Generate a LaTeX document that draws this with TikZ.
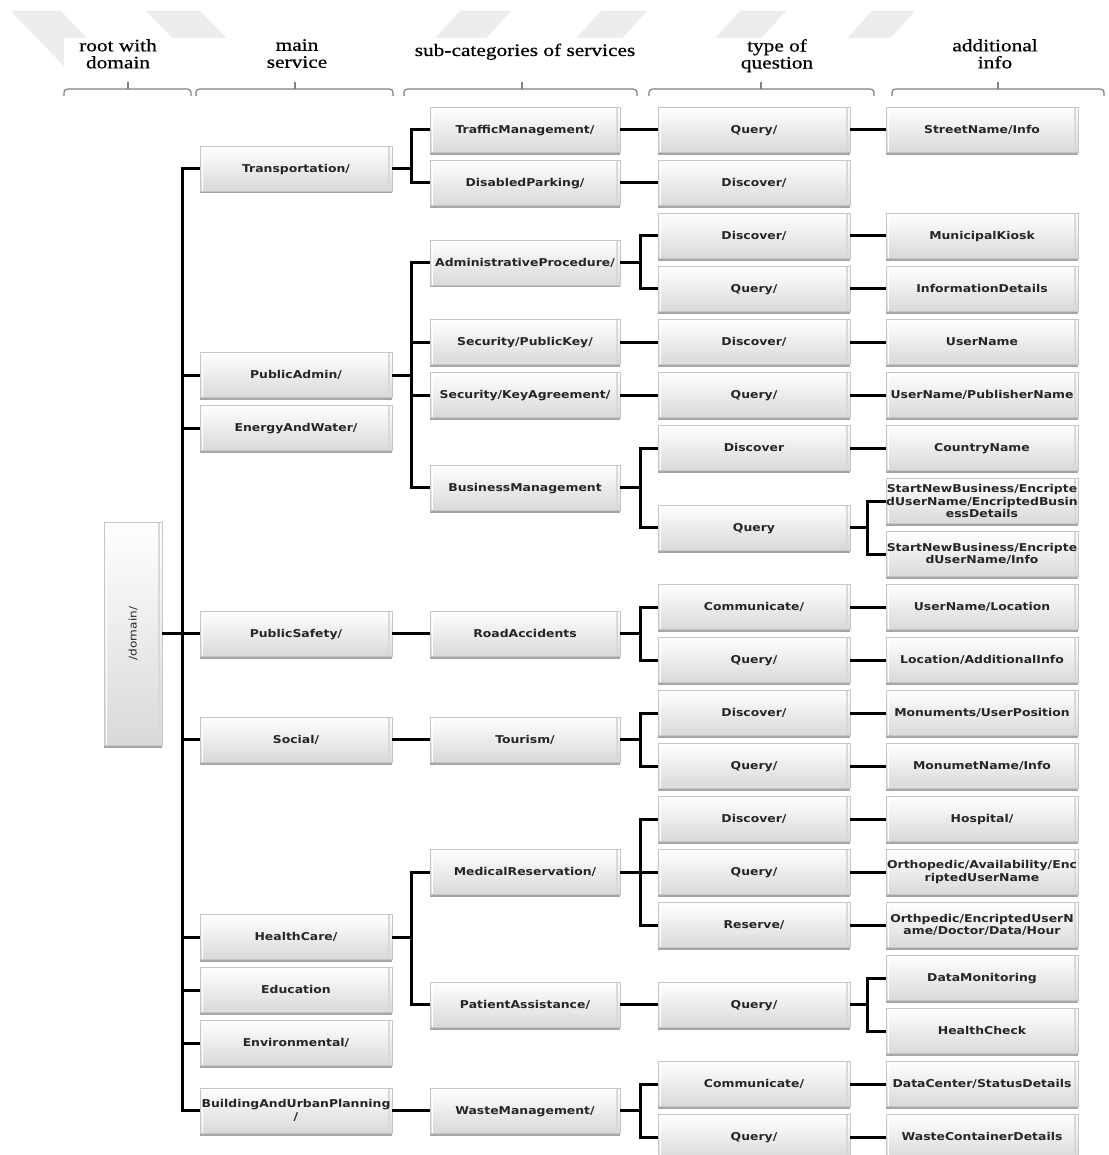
\documentclass[tikz,border=0pt]{standalone}
\usepackage{fontspec}
\usepackage{graphicx}
\usetikzlibrary{shadows}
\newfontfamily\boxfont{DejaVu Sans}[FakeStretch=1.15]
\newfontfamily\headfont{Liberation Serif}[FakeStretch=1.22, FakeBold=0.6]

\begin{document}
\begin{tikzpicture}[x=1pt,y=-1pt,
  svcbox/.style={draw=gray!45, line width=0.6pt, top color=white, bottom color=gray!30,
    minimum width=192pt, minimum height=45pt, inner sep=0pt, align=center,
    text=black!85, font=\boxfont\bfseries\fontsize{10.8}{12.5}\selectfont,
    text height=9pt, text depth=1.5pt,
    drop shadow={shadow xshift=0pt, shadow yshift=-2.5pt, fill=gray!70, opacity=1},
    path picture={
      \draw[white, line width=1.2pt]
        ([xshift=2.5pt]path picture bounding box.north west) --
        ([xshift=2.5pt]path picture bounding box.south west);
      \draw[gray!30, line width=1.2pt]
        ([xshift=-3pt]path picture bounding box.north east) --
        ([xshift=-3pt]path picture bounding box.south east);}},
  multi/.style={text height=, text depth=},
  subbox/.style={svcbox, minimum width=190pt},
  conn/.style={line width=3pt, black},
  brk/.style={gray, line width=1.2pt},
  head/.style={font=\headfont\fontsize{17.5}{17}\selectfont, text=black, align=center, inner sep=0pt},
  wm/.style={fill=gray!14}
]
\useasboundingbox (0,0) rectangle (1108,1155);
\fill[white] (0,0) rectangle (1108,1155);

% faint background marks along the top edge
\fill[wm] (11,11) -- (61,11) -- (128,81) -- (78,81) -- cycle;
\fill[wm] (146,11) -- (200,11) -- (233,45) -- (179,45) -- cycle;
\fill[wm] (460,11) -- (511,11) -- (480,45) -- (429,45) -- cycle;
\fill[wm] (601,11) -- (647,11) -- (616,45) -- (570,45) -- cycle;
\fill[wm] (740,11) -- (786,11) -- (755,45) -- (709,45) -- cycle;
\fill[wm] (872,11) -- (915,11) -- (884,45) -- (841,45) -- cycle;
\fill[white] (64,38) rectangle (1108,1155);

% column headings
\node[head, anchor=north] (hroot) at (118,39) {root with\\domain};
\node[head, anchor=north] (hmain) at (297,39) {main\\service};
\node[head, anchor=base]  (hsub)  at (525,56) {sub-categories of services};
\node[head, anchor=north] (htype) at (777,39) {type of\\question};
\node[head, anchor=north] (hinfo) at (995,39) {additional\\info};

% heading braces
\foreach \a/\m/\b in {64/128/191, 196/295/393, 404/522/637, 649/761/874, 892/998/1104} {
  \draw[brk] (\a,96) .. controls (\a,90) .. (\a+4,89) -- (\b-4,89) .. controls (\b,90) .. (\b,96);
  \draw[brk] (\m,89) -- (\m,82);
}

% bus lines
\coordinate (b0) at (182,0);
\coordinate (b1) at (411,0);
\coordinate (b2) at (640,0);
\coordinate (b3) at (867,0);

% root
\node[svcbox, multi, minimum width=58pt, minimum height=223pt,
      font=\boxfont\fontsize{10.5}{12}\selectfont] (root) at (133,633.5) {\rotatebox{90}{/domain/}};

% main services
\node[svcbox] (trans)   at (296,168.5) {Transportation/};
\node[svcbox] (padmin)  at (296,375)   {PublicAdmin/};
\node[svcbox] (energy)  at (296,428)   {EnergyAndWater/};
\node[svcbox] (psafety) at (296,633.5) {PublicSafety/};
\node[svcbox] (social)  at (296,739.5) {Social/};
\node[svcbox] (health)  at (296,937)   {HealthCare/};
\node[svcbox] (edu)     at (296,990)   {Education};
\node[svcbox] (env)     at (296,1043)  {Environmental/};
\node[svcbox, multi] (build) at (296,1110.5) {BuildingAndUrbanPlanning\\/};

% sub-categories
\node[subbox] (traffic)  at (525,130)    {TrafficManagement/};
\node[subbox] (disabled) at (525,183)    {DisabledParking/};
\node[subbox] (adminp)   at (525,262.5)  {AdministrativeProcedure/};
\node[subbox] (seckey)   at (525,342)    {Security/PublicKey/};
\node[subbox] (secagr)   at (525,395)    {Security/KeyAgreement/};
\node[subbox] (busm)     at (525,487.5)  {BusinessManagement};
\node[subbox] (road)     at (525,633.5)  {RoadAccidents};
\node[subbox] (tour)     at (525,739.5)  {Tourism/};
\node[subbox] (medres)   at (525,872)    {MedicalReservation/};
\node[subbox] (patient)  at (525,1004.5) {PatientAssistance/};
\node[subbox] (waste)    at (525,1110.5) {WasteManagement/};

% question types
\node[svcbox] (q1)  at (754,130)    {Query/};
\node[svcbox] (d1)  at (754,183)    {Discover/};
\node[svcbox] (d2)  at (754,236)    {Discover/};
\node[svcbox] (q2)  at (754,289)    {Query/};
\node[svcbox] (d3)  at (754,342)    {Discover/};
\node[svcbox] (q3)  at (754,395)    {Query/};
\node[svcbox] (d4)  at (754,448)    {Discover};
\node[svcbox] (q4)  at (754,527.5)  {Query};
\node[svcbox] (c1)  at (754,607)    {Communicate/};
\node[svcbox] (q5)  at (754,660)    {Query/};
\node[svcbox] (d5)  at (754,713)    {Discover/};
\node[svcbox] (q6)  at (754,766)    {Query/};
\node[svcbox] (d6)  at (754,819)    {Discover/};
\node[svcbox] (q7)  at (754,872)    {Query/};
\node[svcbox] (res) at (754,925)    {Reserve/};
\node[svcbox] (q8)  at (754,1004.5) {Query/};
\node[svcbox] (c2)  at (754,1084)   {Communicate/};
\node[svcbox] (q9)  at (754,1137)   {Query/};

% additional info
\node[svcbox] (a1)  at (982,130)  {StreetName/Info};
\node[svcbox] (a2)  at (982,236)  {MunicipalKiosk};
\node[svcbox] (a3)  at (982,289)  {InformationDetails};
\node[svcbox] (a4)  at (982,342)  {UserName};
\node[svcbox] (a5)  at (982,395)  {UserName/PublisherName};
\node[svcbox] (a6)  at (982,448)  {CountryName};
\node[svcbox, multi] (a7)  at (982,501)  {StartNewBusiness/Encripte\\dUserName/EncriptedBusin\\essDetails};
\node[svcbox, multi] (a8)  at (982,554)  {StartNewBusiness/Encripte\\dUserName/Info};
\node[svcbox] (a9)  at (982,607)  {UserName/Location};
\node[svcbox] (a10) at (982,660)  {Location/AdditionalInfo};
\node[svcbox] (a11) at (982,713)  {Monuments/UserPosition};
\node[svcbox] (a12) at (982,766)  {MonumetName/Info};
\node[svcbox] (a13) at (982,819)  {Hospital/};
\node[svcbox, multi] (a14) at (982,872)  {Orthopedic/Availability/Enc\\riptedUserName};
\node[svcbox, multi] (a15) at (982,925)  {Orthpedic/EncriptedUserN\\ame/Doctor/Data/Hour};
\node[svcbox] (a16) at (982,978)  {DataMonitoring};
\node[svcbox] (a17) at (982,1031) {HealthCheck};
\node[svcbox] (a18) at (982,1084) {DataCenter/StatusDetails};
\node[svcbox] (a19) at (982,1137) {WasteContainerDetails};

% root to main services
\draw[conn] (root.east) -- (root.east -| b0);
\draw[conn] (trans.west) -| (b0 |- build) -- (build.west);
\foreach \n in {padmin,energy,psafety,social,health,edu,env}
  \draw[conn] (b0 |- \n) -- (\n.west);

% main services to sub-categories
\draw[conn] (trans.east) -- (trans.east -| b1);
\draw[conn] (traffic.west) -| (b1 |- disabled) -- (disabled.west);
\draw[conn] (padmin.east) -- (padmin.east -| b1);
\draw[conn] (adminp.west) -| (b1 |- busm) -- (busm.west);
\draw[conn] (b1 |- seckey) -- (seckey.west);
\draw[conn] (b1 |- secagr) -- (secagr.west);
\draw[conn] (psafety.east) -- (road.west);
\draw[conn] (social.east) -- (tour.west);
\draw[conn] (health.east) -- (health.east -| b1);
\draw[conn] (medres.west) -| (b1 |- patient) -- (patient.west);
\draw[conn] (build.east) -- (waste.west);

% sub-categories to question types
\draw[conn] (traffic.east) -- (q1.west);
\draw[conn] (disabled.east) -- (d1.west);
\draw[conn] (adminp.east) -- (adminp.east -| b2);
\draw[conn] (d2.west) -| (b2 |- q2) -- (q2.west);
\draw[conn] (seckey.east) -- (d3.west);
\draw[conn] (secagr.east) -- (q3.west);
\draw[conn] (busm.east) -- (busm.east -| b2);
\draw[conn] (d4.west) -| (b2 |- q4) -- (q4.west);
\draw[conn] (road.east) -- (road.east -| b2);
\draw[conn] (c1.west) -| (b2 |- q5) -- (q5.west);
\draw[conn] (tour.east) -- (tour.east -| b2);
\draw[conn] (d5.west) -| (b2 |- q6) -- (q6.west);
\draw[conn] (medres.east) -- (medres.east -| b2);
\draw[conn] (d6.west) -| (b2 |- res) -- (res.west);
\draw[conn] (b2 |- q7) -- (q7.west);
\draw[conn] (patient.east) -- (q8.west);
\draw[conn] (waste.east) -- (waste.east -| b2);
\draw[conn] (c2.west) -| (b2 |- q9) -- (q9.west);

% question types to additional info
\draw[conn] (q1.east) -- (a1.west);
\draw[conn] (d2.east) -- (a2.west);
\draw[conn] (q2.east) -- (a3.west);
\draw[conn] (d3.east) -- (a4.west);
\draw[conn] (q3.east) -- (a5.west);
\draw[conn] (d4.east) -- (a6.west);
\draw[conn] (q4.east) -- (q4.east -| b3);
\draw[conn] (a7.west) -| (b3 |- a8) -- (a8.west);
\draw[conn] (c1.east) -- (a9.west);
\draw[conn] (q5.east) -- (a10.west);
\draw[conn] (d5.east) -- (a11.west);
\draw[conn] (q6.east) -- (a12.west);
\draw[conn] (d6.east) -- (a13.west);
\draw[conn] (q7.east) -- (a14.west);
\draw[conn] (res.east) -- (a15.west);
\draw[conn] (q8.east) -- (q8.east -| b3);
\draw[conn] (a16.west) -| (b3 |- a17) -- (a17.west);
\draw[conn] (c2.east) -- (a18.west);
\draw[conn] (q9.east) -- (a19.west);
\end{tikzpicture}
\end{document}
